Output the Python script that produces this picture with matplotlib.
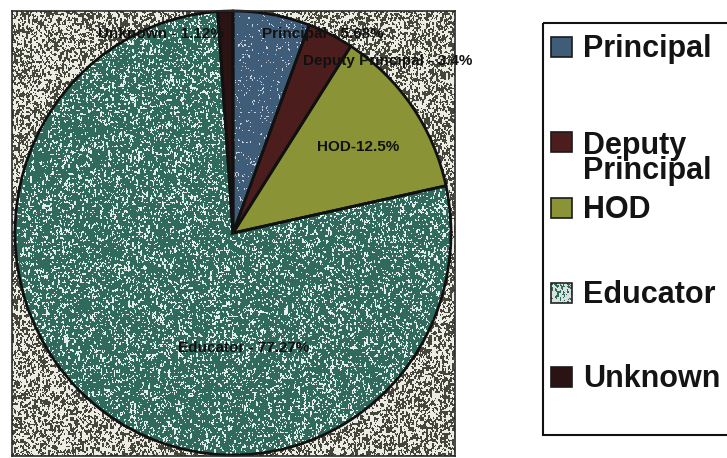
import numpy as np
import matplotlib
matplotlib.use("Agg")
import matplotlib.pyplot as plt
from matplotlib.patches import Rectangle

plt.rcParams['font.family'] = ['Liberation Sans', 'DejaVu Sans']
plt.rcParams['font.weight'] = 'bold'

# position of staff in the school (percent of respondents)
categories = ['Principal', 'Deputy Principal', 'HOD', 'Educator', 'Unknown']
shares = [5.68, 3.4, 12.5, 77.27, 1.12]
slice_labels = ['Principal - 5.68%', 'Deputy Principal - 3.4%', 'HOD-12.5%',
                'Educator - 77.27%', 'Unknown - 1.12%']
legend_labels = ['Principal', 'Deputy\nPrincipal', 'HOD', 'Educator', 'Unknown']

colors = ['#3f5d78', '#4b1d1c', '#8a9437', '#2f6a5c', '#2a1312']

W, H = 727, 458
fig = plt.figure(figsize=(W / 100, H / 100), dpi=100)

# plot area in pixels (left, top, right, bottom) and pie geometry
px_l, px_t, px_r, px_b = 12, 11, 455, 456
cx, cy, rx, ry = 233, 233, 218, 222

ax = fig.add_axes([px_l / W, 1 - px_b / H, (px_r - px_l) / W, (px_b - px_t) / H])
xlim = ((px_l - cx) / rx, (px_r - cx) / rx)
ylim = ((cy - px_b) / ry, (cy - px_t) / ry)


def speckle(h, w, base, light, density, seed):
    # grainy two-tone texture, clumpy like a photocopy
    rng = np.random.default_rng(seed)
    coarse = rng.random((h // 2 + 1, w // 2 + 1))
    coarse = np.repeat(np.repeat(coarse, 2, axis=0), 2, axis=1)[:h, :w]
    n = 0.6 * coarse + 0.4 * rng.random((h, w))
    n = (n + np.roll(n, 1, axis=0) * 0.5) / 1.5
    mask = n > np.quantile(n, 1 - density)
    img = np.empty((h, w, 3))
    img[:] = matplotlib.colors.to_rgb(base)
    img[mask] = matplotlib.colors.to_rgb(light)
    return img


h_px, w_px = px_b - px_t, px_r - px_l
extent = (xlim[0], xlim[1], ylim[0], ylim[1])

# speckled background of the plot area
ax.imshow(speckle(h_px, w_px, '#45463a', '#ecece4', 0.52, 1),
          extent=extent, aspect='auto', interpolation='nearest', zorder=0)

wedges, _ = ax.pie(shares, colors=colors, startangle=90, counterclock=False,
                   wedgeprops=dict(linewidth=0))
for w in wedges:
    w.set_zorder(1)

# texture on the Educator and Principal slices
im = ax.imshow(speckle(h_px, w_px, colors[3], '#e4eeeb', 0.2, 2),
               extent=extent, aspect='auto', interpolation='nearest', zorder=1.5)
im.set_clip_path(wedges[3])
im2 = ax.imshow(speckle(h_px, w_px, colors[0], '#c8d2dc', 0.05, 3),
                extent=extent, aspect='auto', interpolation='nearest', zorder=1.5)
im2.set_clip_path(wedges[0])

# slice outlines
outline, _ = ax.pie(shares, startangle=90, counterclock=False,
                    wedgeprops=dict(facecolor='none', edgecolor='#111111', linewidth=2))
for w in outline:
    w.set_zorder(2)

# slice labels (left edge, baseline) in pixels
label_pos = [(262, 38), (303, 65), (317, 151), (178, 352), (98, 38)]
for txt, (lx, ly) in zip(slice_labels, label_pos):
    ax.text((lx - cx) / rx, (cy - ly) / ry, txt, fontsize=11, fontweight='bold',
            color='#111111', ha='left', va='baseline', zorder=3)

ax.set_aspect('auto')
ax.set_xlim(*xlim)
ax.set_ylim(*ylim)
ax.set_xticks([])
ax.set_yticks([])
ax.set_frame_on(True)
for s in ax.spines.values():
    s.set_color('#2a2a2a')
    s.set_linewidth(1.2)

# legend panel drawn in pixel coordinates
lg = fig.add_axes([0, 0, 1, 1], facecolor='none')
lg.set_xlim(0, W)
lg.set_ylim(H, 0)
lg.axis('off')
lg.add_patch(Rectangle((543, 23), 220, 412, fill=False, edgecolor='#111111', linewidth=1.5))

# marker baseline and baseline of the last text line for each entry
marker_base = [57, 152, 218, 303, 387]
text_base = [57, 179, 218, 303, 387]
for lab, col, mb, tb in zip(legend_labels, colors, marker_base, text_base):
    if lab == 'Educator':
        lg.imshow(speckle(20, 21, '#d9e0dd', colors[3], 0.3, 4),
                  extent=(551, 572, mb, mb - 20), aspect='auto',
                  interpolation='nearest', zorder=2)
        lg.add_patch(Rectangle((551, mb - 20), 21, 20, fill=False,
                               edgecolor='#222222', linewidth=1.2, zorder=3))
    else:
        lg.add_patch(Rectangle((551, mb - 20), 21, 20, facecolor=col,
                               edgecolor='#1a1a1a', linewidth=1.2, zorder=2))
    lg.text(583, tb, lab, fontsize=22, fontweight='bold',
            color='#141414', ha='left', va='baseline', linespacing=0.78)

fig.savefig('out.png', dpi=100)
